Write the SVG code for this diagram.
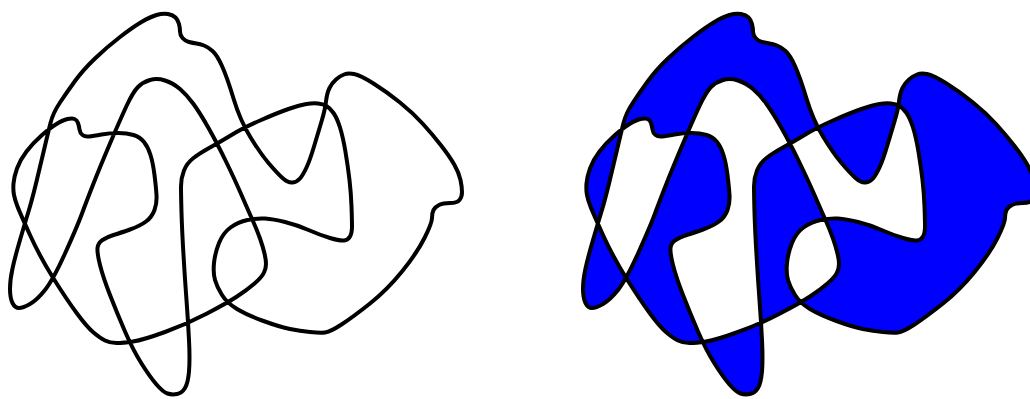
<svg xmlns="http://www.w3.org/2000/svg" xmlns:xlink="http://www.w3.org/1999/xlink" width="1030" height="399" viewBox="0 0 1030 399">
<style>
.outline{fill:none;stroke:#000;stroke-width:4;stroke-linejoin:round}
.filled{fill:#0000ff;fill-rule:evenodd;stroke:#000;stroke-width:4;stroke-linejoin:round}
</style>
<defs>
<path id="curve" d="M156.5,15 Q163,13 168,14 Q173,15 175.5,17.5 Q178,20 179,24 Q180,28 180,31.5 Q180,35 182.5,38 Q185,41 189,42 Q193,43 196.5,43.5 Q200,44 204,45.5 Q208,47 212.5,51 Q217,55 222,66 Q227,77 233.5,98.5 Q240,120 250,136.5 Q260,153 268.5,163 Q277,173 282.5,178 Q288,183 292.5,182.5 Q297,182 300,178.5 Q303,175 306.5,167.5 Q310,160 314,146.5 Q318,133 321.5,121.5 Q325,110 326,101.5 Q327,93 329.5,88 Q332,83 336,79.5 Q340,76 344,74.5 Q348,73 354,74 Q360,75 373.5,83.5 Q387,92 400,102.5 Q413,113 423,124 Q433,135 441.5,146 Q450,157 454.5,165 Q459,173 460.5,180 Q462,187 462,192 Q462,197 459.5,200 Q457,203 450,203 Q443,203 439,205 Q435,207 433.5,210 Q432,213 432,218 Q432,223 424.5,238 Q417,253 402,271.5 Q387,290 370,303.5 Q353,317 341.5,324.5 Q330,332 325,332.5 Q320,333 310,332 Q300,331 290,329 Q280,327 263.5,321 Q247,315 237,309 Q227,303 222,295 Q217,287 215,280 Q213,273 214,263 Q215,253 219,243 Q223,233 230.5,227.5 Q238,222 247.5,220 Q257,218 265,218.5 Q273,219 285,222 Q297,225 308.5,230 Q320,235 330,238 Q340,241 344,240.5 Q348,240 350,236.5 Q352,233 352,226.5 Q352,220 351.5,206.5 Q351,193 349.5,180 Q348,167 345.5,152 Q343,137 340,127.5 Q337,118 333.5,113 Q330,108 326.5,106 Q323,104 318,103.5 Q313,103 306.5,104 Q300,105 288.5,109 Q277,113 260,120.5 Q243,128 231.5,135 Q220,142 210,147.5 Q200,153 193.5,158 Q187,163 184,170.5 Q181,178 181,186.5 Q181,195 181.5,212.5 Q182,230 183.5,255 Q185,280 186.5,300 Q188,320 189,340 Q190,360 189,371.5 Q188,383 185,388 Q182,393 177,394 Q172,395 167.5,393.5 Q163,392 156.5,384.5 Q150,377 141.5,363.5 Q133,350 125,331.5 Q117,313 110,295 Q103,277 100,265 Q97,253 97.5,248 Q98,243 102.5,240 Q107,237 113.5,235 Q120,233 130,229.5 Q140,226 146,221.5 Q152,217 154.5,210 Q157,203 156.5,195 Q156,187 154.5,175 Q153,163 150.5,155 Q148,147 144,142 Q140,137 133.5,135 Q127,133 118.5,133 Q110,133 101.5,134.5 Q93,136 89,136.5 Q85,137 82.5,135 Q80,133 79.5,129.5 Q79,126 78,123 Q77,120 74.5,119 Q72,118 67.5,119 Q63,120 56.5,124 Q50,128 41.5,135.5 Q33,143 26.5,151.5 Q20,160 17,168.5 Q14,177 13.5,183.5 Q13,190 14,195 Q15,200 17.5,206.5 Q20,213 30,235 Q40,257 53.5,278.5 Q67,300 77,313.5 Q87,327 93.5,332.5 Q100,338 105,340.5 Q110,343 116.5,343 Q123,343 133,341.5 Q143,340 165,332 Q187,324 207,313.5 Q227,303 237,296.5 Q247,290 254.5,283.5 Q262,277 264,272.5 Q266,268 266,264 Q266,260 264.5,253.5 Q263,247 260,238.5 Q257,230 252.5,220 Q248,210 241.5,195 Q235,180 226,161.5 Q217,143 208.5,128 Q200,113 193.5,104 Q187,95 180,89 Q173,83 165,80.5 Q157,78 150,80 Q143,82 138,87 Q133,92 126.5,106 Q120,120 110,143.5 Q100,167 93.5,183.5 Q87,200 82,213.5 Q77,227 65,253.5 Q53,280 45,290 Q37,300 30,304 Q23,308 19,308 Q15,308 12.5,303 Q10,298 10,289 Q10,280 12.5,268.5 Q15,257 20,240 Q25,223 28.5,211.5 Q32,200 36,183.5 Q40,167 44,150 Q48,133 50.5,123 Q53,113 60,102.5 Q67,92 75,81 Q83,70 95,58.5 Q107,47 120,37 Q133,27 141.5,22 Q150,17 156.5,15 Z"/>
</defs>
<g id="outline-curve">
<use xlink:href="#curve" href="#curve" class="outline"/>
</g>
<g id="filled-curve">
<use xlink:href="#curve" href="#curve" class="filled" transform="translate(573,0)"/>
</g>
</svg>
